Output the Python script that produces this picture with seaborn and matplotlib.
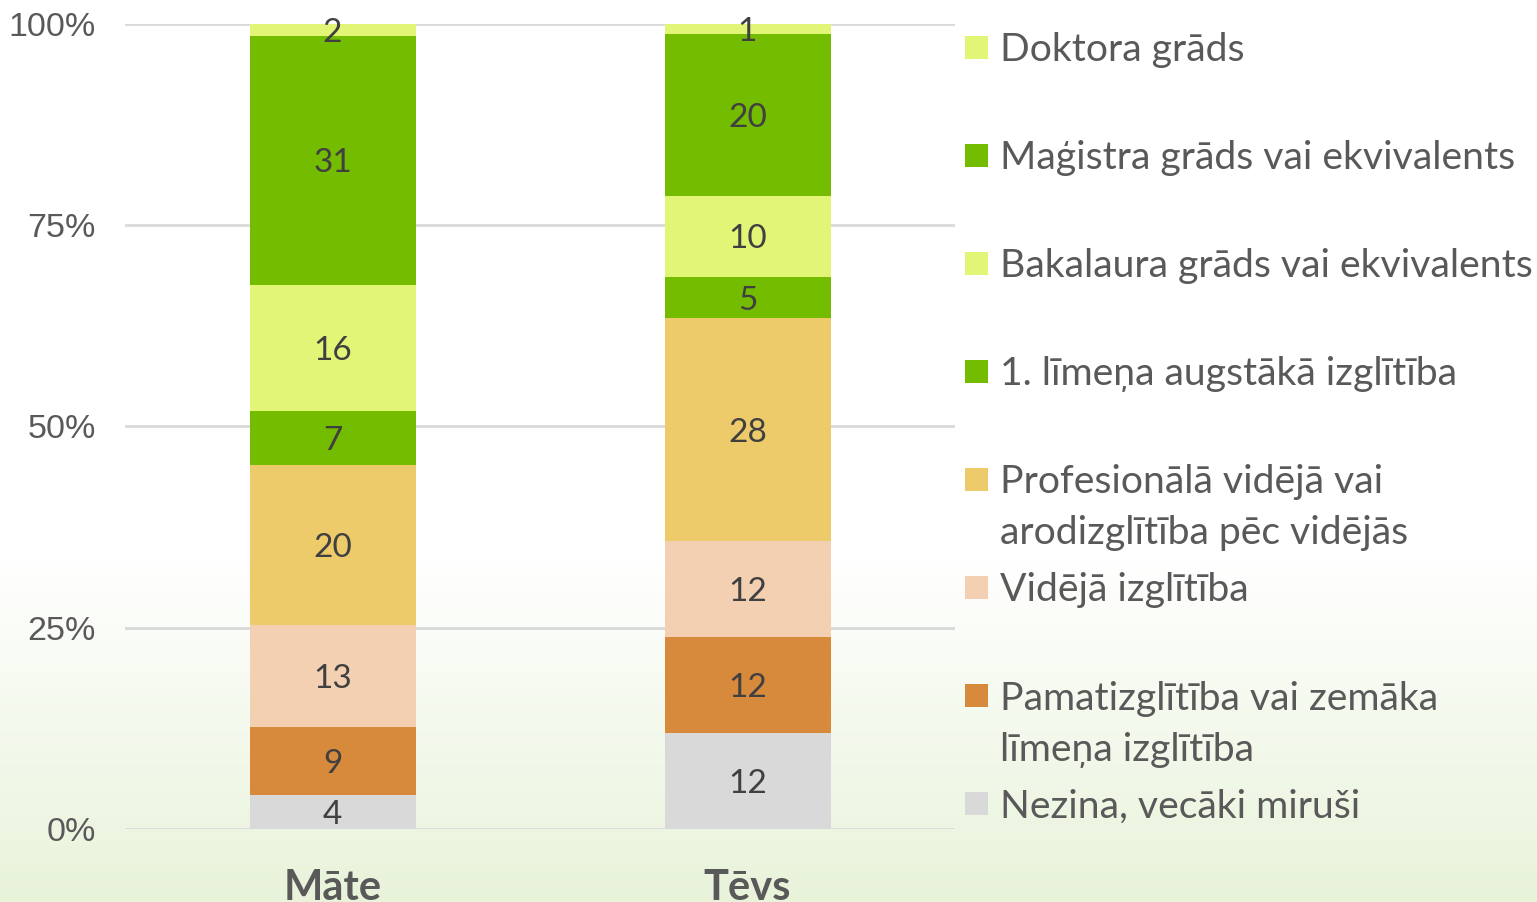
import numpy as np
import pandas as pd
import matplotlib.pyplot as plt
import seaborn as sns
from matplotlib.patches import Rectangle

# dati (no apakšas uz augšu)
vecaki = ['Māte', 'Tēvs']
limeni = ['Nezina, vecāki miruši',
          'Pamatizglītība vai zemāka\nlīmeņa izglītība',
          'Vidējā izglītība',
          'Profesionālā vidējā vai\narodizglītība pēc vidējās',
          '1. līmeņa augstākā izglītība',
          'Bakalaura grāds vai ekvivalents',
          'Maģistra grāds vai ekvivalents',
          'Doktora grāds']
mate_proc = [4.2, 8.45, 12.7, 19.9, 6.7, 15.65, 30.9, 1.5]
tevs_proc = [11.9, 11.9, 11.9, 27.7, 5.1, 10.1, 20.1, 1.2]
mate_etik = [4, 9, 13, 20, 7, 16, 31, 2]
tevs_etik = [12, 12, 12, 28, 5, 10, 20, 1]
krasas = ['#d9d9d9', '#d88a3c', '#f4d0b3', '#edcb6b',
          '#74bc00', '#e3f576', '#74bc00', '#e3f576']

df = pd.DataFrame({'Māte': mate_proc, 'Tēvs': tevs_proc}, index=limeni)
df = df / df.sum() * 100
kum = df.cumsum()

sns.set_theme(style='white')
plt.rcParams['font.family'] = ['Lato', 'DejaVu Sans']

fig = plt.figure(figsize=(15.37, 9.02), dpi=100)

# fona gradients
bg = fig.add_axes([0, 0, 1, 1], zorder=-10)
grad = np.ones((902, 1, 3))
t = np.clip((np.arange(902) - 560) / (902 - 560), 0, 1)
sakums = np.array([1.0, 1.0, 1.0])
beigas = np.array([232, 243, 218]) / 255
grad[:, 0, :] = sakums + (beigas - sakums) * t[:, None]
bg.imshow(grad, aspect='auto', extent=[0, 1, 0, 1], origin='upper')
bg.axis('off')

ax = fig.add_axes([125 / 1537, 73 / 902, 830 / 1537, 805 / 902])
ax.set_facecolor('none')

# sakrautie stabiņi: zīmē no augšas uz leju, lai katrs nākamais pārklāj
for i in range(len(limeni) - 1, -1, -1):
    d = pd.DataFrame({'vecaks': vecaki, 'vert': kum.iloc[i].values})
    sns.barplot(data=d, x='vecaks', y='vert', color=krasas[i], width=0.4,
                saturation=1, ax=ax, zorder=3, linewidth=0)

etiketes = {'Māte': mate_etik, 'Tēvs': tevs_etik}
for j, v in enumerate(vecaki):
    apaksa = 0
    for i in range(len(limeni)):
        h = df[v].iloc[i]
        ax.text(j, apaksa + h / 2, str(etiketes[v][i]), ha='center', va='center_baseline',
                fontsize=24, color='#404040', zorder=5)
        apaksa += h

ax.set_xlim(-0.5, 1.5)
ax.set_ylim(0, 100)
ax.set_yticks([0, 25, 50, 75, 100])
ax.set_yticklabels(['0%', '25%', '50%', '75%', '100%'],
                   fontsize=24.5, color='#595959', family=['Liberation Sans', 'DejaVu Sans'])
ax.yaxis.grid(True, color='#d9d9d9', linewidth=2, zorder=0)
ax.set_axisbelow(True)
ax.tick_params(axis='y', length=0, pad=21)
ax.tick_params(axis='x', length=0, pad=29)
for lab in ax.get_xticklabels():
    lab.set_fontsize(30)
    lab.set_fontweight('bold')
    lab.set_color('#595959')
ax.set_xlabel('')
ax.set_ylabel('')
for s in ax.spines.values():
    s.set_visible(False)

# leģenda (pikseļu koordinātēs)
leg = fig.add_axes([0, 0, 1, 1], zorder=5)
leg.set_xlim(0, 1537)
leg.set_ylim(902, 0)
leg.axis('off')
solis = 108.1
for k, i in enumerate(range(len(limeni) - 1, -1, -1)):
    y = 47 + k * solis
    leg.add_patch(Rectangle((965, y - 11.5), 23, 23, color=krasas[i], linewidth=0))
    for r, rinda in enumerate(limeni[i].split('\n')):
        leg.text(1000, y + 14 + r * 51, rinda, ha='left', va='baseline', fontsize=28.2,
                 color='#595959')

fig.savefig('out.png', dpi=100)
